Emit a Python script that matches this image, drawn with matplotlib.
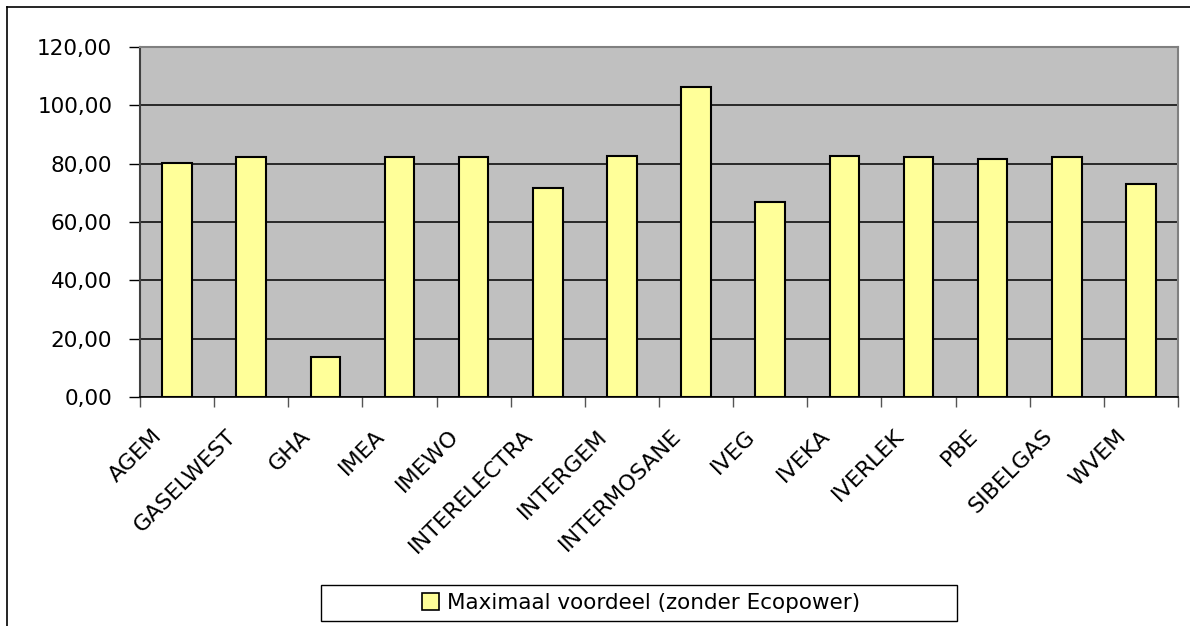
import numpy as np
import matplotlib.pyplot as plt
from matplotlib.lines import Line2D
from matplotlib.patches import Rectangle, Patch
from matplotlib.transforms import ScaledTranslation

# ── data ─────────────────────────────────────────────────────────────────────
categories = ["AGEM", "GASELWEST", "GHA", "IMEA", "IMEWO", "INTERELECTRA",
              "INTERGEM", "INTERMOSANE", "IVEG", "IVEKA", "IVERLEK", "PBE",
              "SIBELGAS", "WVEM"]
voordeel = [80.2, 82.2, 13.8, 82.2, 82.2, 71.8, 82.8, 106.2, 67.0, 82.8,
            82.2, 81.5, 82.2, 73.1]
y_ticks = [0, 20, 40, 60, 80, 100, 120]
series_label = "Maximaal voordeel (zonder Ecopower)"

W, H = 1190, 626
FS = 15.5

plt.rcParams["font.family"] = ["DejaVu Sans"]

fig = plt.figure(figsize=(W / 100, H / 100), dpi=100)
ax = fig.add_axes([140 / W, 1 - 397 / H, (1178 - 140) / W, (397 - 47) / H])
ax.set_facecolor("#C0C0C0")

x = np.arange(len(categories))
ax.bar(x, voordeel, width=0.4, color="#FFFF99", edgecolor="black",
       linewidth=1.5, zorder=3)

ax.set_xlim(-0.5, len(categories) - 0.5)
ax.set_ylim(0, 120)
ax.set_yticks(y_ticks)
ax.set_yticklabels([f"{v:.2f}".replace(".", ",") for v in y_ticks], fontsize=FS)
ax.yaxis.grid(True, color="black", linewidth=1.1, zorder=1)
ax.set_axisbelow(True)

# category labels at centres, tick marks at boundaries
ax.set_xticks(x)
ax.set_xticklabels(categories, fontsize=16, rotation=45, ha="right",
                   rotation_mode="anchor")
ax.tick_params(axis="x", which="major", length=0, pad=10)
shift = ScaledTranslation(-25 / 100, -15 / 100, fig.dpi_scale_trans)
for lab in ax.get_xticklabels():
    lab.set_transform(lab.get_transform() + shift)
ax.set_xticks(np.arange(len(categories) + 1) - 0.5, minor=True)
ax.tick_params(axis="x", which="minor", length=7, color="#555555", width=1)
ax.tick_params(axis="y", length=8, width=1, pad=12, color="black")

for side in ["top", "right"]:
    ax.spines[side].set_color("#808080")
    ax.spines[side].set_linewidth(1.5)
ax.spines["left"].set_color("#404040")
ax.spines["left"].set_linewidth(1.5)
ax.spines["bottom"].set_color("black")
ax.spines["bottom"].set_linewidth(1.2)

# legend box
fig.patches.append(Rectangle((321 / W, 1 - 621 / H), (957 - 321) / W, 36 / H,
                             transform=fig.transFigure, facecolor="white",
                             edgecolor="black", linewidth=1))
handle = Patch(facecolor="#FFFF99", edgecolor="black", linewidth=1.2)
fig.legend([handle], [series_label], loc="center", frameon=False,
           bbox_to_anchor=(641 / W, 1 - 603 / H), fontsize=FS,
           handlelength=0.8, handleheight=0.8, handletextpad=0.4)

# outer chart frame (left and top edges visible)
fig.add_artist(Line2D([7 / W, 7 / W], [0, 1 - 7 / H], transform=fig.transFigure,
                      color="black", linewidth=1.2))
fig.add_artist(Line2D([7 / W, 1], [1 - 7 / H, 1 - 7 / H], transform=fig.transFigure,
                      color="black", linewidth=1.2))

fig.savefig("out.png", dpi=100, facecolor="white")
